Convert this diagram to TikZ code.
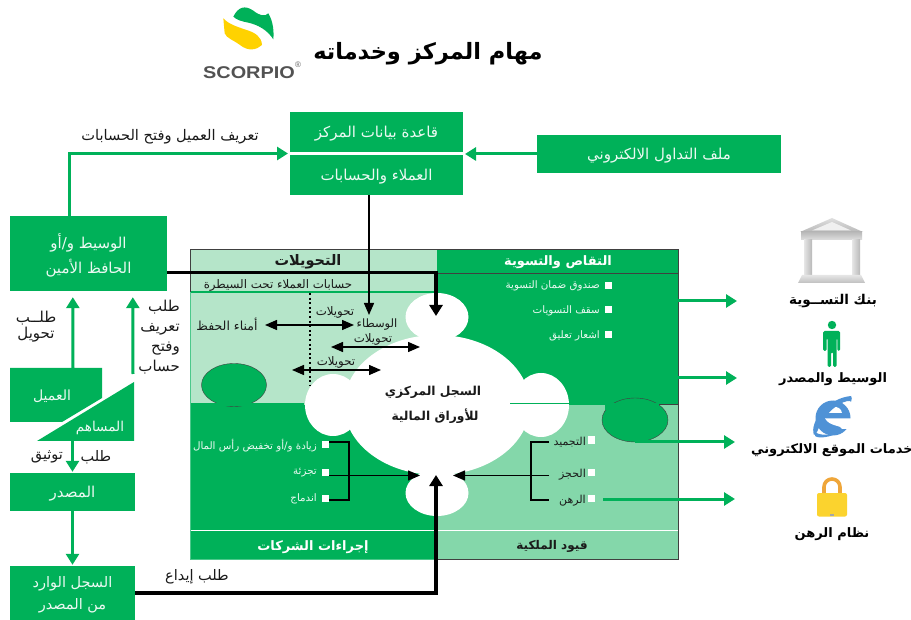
\documentclass[tikz,border=0pt]{standalone}
\usepackage{fontspec}
\usetikzlibrary{arrows.meta}
\setmainfont{Liberation Sans}
\newfontfamily\arfont[Script=Arabic]{DejaVu Sans}
\TeXXeTstate=1
\newcommand{\ar}[1]{\raisebox{-.13em}[\height][\depth]{\arfont\beginR #1\endR}}
\newcommand{\fs}[2]{\fontsize{#1}{#2}\selectfont}
\definecolor{gmain}{HTML}{00B159}
\definecolor{glight}{HTML}{B5E5C9}
\definecolor{gmid}{HTML}{84D7AA}
\definecolor{edgegray}{HTML}{404040}
\definecolor{txtdark}{HTML}{1A1A1A}
\definecolor{iefill}{HTML}{4F92D6}
\definecolor{lockbody}{HTML}{FBD32E}
\definecolor{lockring}{HTML}{EFA63A}
\definecolor{logoyellow}{HTML}{FFD200}
\tikzset{
  gbox/.style={fill=gmain,text=white!92!gmain,inner sep=0pt,align=center,font=\fs{15}{25}},
  garrow/.style={draw=gmain,line width=3pt,-{Triangle[length=11pt,width=13pt]}},
  thickarrow/.style={draw=black,line width=3.6pt,-{Triangle[length=11pt,width=13pt]}},
  thinarrow/.style={draw=black,line width=1.4pt,-{Triangle[length=12pt,width=10pt]}},
  dblarrow/.style={draw=black,line width=1.4pt,{Triangle[length=12pt,width=10pt]}-{Triangle[length=12pt,width=10pt]}},
  bracket/.style={draw=black,line width=1.4pt},
  lbl/.style={inner sep=0pt,text=txtdark,font=\fs{14.5}{19},align=center},
  small/.style={inner sep=0pt,text=txtdark,font=\fs{11}{12}},
  smallw/.style={inner sep=0pt,text=white!92!gmain,font=\fs{10.3}{12}},
  head/.style={inner sep=0pt,font=\fs{13}{14}\bfseries},
  iconlbl/.style={inner sep=0pt,text=black,font=\fs{13}{14}\bfseries},
  sq/.style={fill=white,inner sep=0pt,minimum size=7pt},
  quad/.style={inner sep=0pt,minimum width=246pt},
}
\begin{document}
\begin{tikzpicture}[x=1pt,y=-1pt]
\useasboundingbox[fill=white] (0,0) rectangle (911,620);
% ---- panel quadrants
\node[quad,fill=glight,minimum height=156pt] (tl) at (313.5,327) {};
\node[quad,fill=gmain,minimum width=241.5pt,minimum height=156pt] (tr) at (557.25,327) {};
\node[quad,fill=gmain,minimum height=154pt] (bl) at (313.5,482) {};
\node[quad,fill=gmid,minimum width=241.5pt,minimum height=154pt] (br) at (557.25,482) {};
% puzzle lobes
\fill[gmain,draw=edgegray,line width=.4pt] (234,385) ellipse [x radius=32.5,y radius=21.5];
\fill[gmain] (190.5,403) rectangle (304,406);
\fill[gmain,draw=edgegray,line width=.4pt] (635,420) ellipse [x radius=33,y radius=22];
\fill[gmain] (605,403) rectangle (659,410);
\draw[edgegray,line width=.6pt] (659,404.5) -- (678,404.5);
% panel rules
\draw[edgegray,line width=.7pt] (436.5,273) -- (678,273);
\draw[edgegray,line width=.7pt] (190.5,292) -- (190.5,249) -- (678,249) -- (678,559) -- (436.5,559);
\draw[gmain!70!white,line width=.5pt] (190.5,292) -- (190.5,559) -- (436.5,559);
\draw[gmain,line width=2pt] (190.5,292.5) -- (436.5,292.5);
\draw[white,line width=1.6pt] (190.5,530.5) -- (678,530.5);
% ---- white cloud
\fill[white] (437,405) ellipse [x radius=93,y radius=70];
\fill[white] (437,317) ellipse [x radius=31.5,y radius=24];
\fill[white] (437,493) ellipse [x radius=31.5,y radius=23];
\fill[white] (333,405) ellipse [x radius=28,y radius=31];
\fill[white] (541,405) ellipse [x radius=28,y radius=32];
\draw[gmain,line width=1.6pt] (510,403.5) -- (570,403.5);
% ---- dotted rule
\draw[black,line width=2pt,dash pattern=on 2pt off 2.6pt] (310,293) -- (310,386);
% ---- boxes
\node[gbox,minimum width=173pt,minimum height=40pt] (dbtop) at (376.5,132) {\ar{قاعدة بيانات المركز}};
\node[gbox,minimum width=173pt,minimum height=40pt] (dbbot) at (376.5,175) {\ar{العملاء والحسابات}};
\node[gbox,minimum width=244pt,minimum height=38pt] (file) at (659,154) {\ar{ملف التداول الالكتروني}};
\node[gbox,minimum width=157pt,minimum height=75pt] (broker) at (88.5,253.5) {\ar{الوسيط و/أو}\\\ar{الحافظ الأمين}};
\node[gbox,minimum width=125pt,minimum height=38pt] (issuer) at (72.5,492) {\ar{المصدر}};
\node[gbox,minimum width=125pt,minimum height=54pt,font=\fs{14.5}{22}] (incoming) at (72.5,593) {\ar{السجل الوارد}\\\ar{من المصدر}};
% client and shareholder shapes
\fill[gmain] (10,368) -- (102,368) -- (102,398) -- (62,422) -- (10,422) -- cycle;
\fill[gmain] (134,382) -- (134,441) -- (37,441) -- cycle;
\node[inner sep=0pt,text=white!92!gmain,font=\fs{14}{15}] (client) at (52,394) {\ar{العميل}};
\node[inner sep=0pt,text=white!92!gmain,font=\fs{13.6}{15}] (holder) at (100,426) {\ar{المساهم}};
% ---- cloud text
\node[inner sep=0pt,text=txtdark,font=\fs{12.3}{14}\bfseries] (regone) at (433,391) {\ar{السجل المركزي}};
\node[inner sep=0pt,text=txtdark,font=\fs{12.3}{14}\bfseries] (regtwo) at (435,415) {\ar{للأوراق المالية}};
% ---- headers
\node[head,text=txtdark,font=\fs{14.5}{15}\bfseries] (hxfer) at (308,260) {\ar{التحويلات}};
\node[small,text=txtdark,font=\fs{11.8}{13}] (hctrl) at (278,284) {\ar{حسابات العملاء تحت السيطرة}};
\node[head,text=white] (hclear) at (558,260) {\ar{التقاص والتسوية}};
\node[head,text=white] (hcorp) at (313,545) {\ar{إجراءات الشركات}};
\node[head,text=txtdark,font=\fs{12}{14}\bfseries] (hlimit) at (552,545) {\ar{قيود الملكية}};
% ---- bullets top right
\node[sq] (s1) at (608,286) {}; \node[smallw,anchor=east] (t1) at (600,285) {\ar{صندوق ضمان التسوية}};
\node[sq] (s2) at (608,310) {}; \node[smallw,anchor=east] (t2) at (600,310) {\ar{سقف التسويات}};
\node[sq] (s3) at (608,335) {}; \node[smallw,anchor=east] (t3) at (600,335) {\ar{اشعار تعليق}};
% ---- bullets bottom left
\node[sq] (l1) at (325.5,444.5) {}; \node[smallw,anchor=east] (lt1) at (317,444) {\ar{زيادة و/أو تخفيض رأس المال}};
\node[sq] (l2) at (325.5,472.5) {}; \node[smallw,anchor=east] (lt2) at (317,471) {\ar{تجزئة}};
\node[sq] (l3) at (325.5,498) {}; \node[smallw,anchor=east] (lt3) at (317,498) {\ar{اندماج}};
% ---- bullets bottom right
\node[sq] (r1) at (591.5,440) {}; \node[small,anchor=east] (rt1) at (586,441) {\ar{التجميد}};
\node[sq] (r2) at (591.5,472) {}; \node[small,anchor=east] (rt2) at (586,473) {\ar{الحجز}};
\node[sq] (r3) at (591.5,498) {}; \node[small,anchor=east] (rt3) at (586,499) {\ar{الرهن}};
% ---- transfer labels
\node[small,font=\fs{11.8}{13}] (x1) at (335,311) {\ar{تحويلات}};
\node[small,font=\fs{11.5}{13}] (vas) at (377,323) {\ar{الوسطاء}};
\node[small,font=\fs{11.8}{13}] (x2) at (373,338) {\ar{تحويلات}};
\node[small,font=\fs{11.8}{13}] (x3) at (336,361) {\ar{تحويلات}};
\node[small,font=\fs{12.5}{13}] (cust) at (227,323) {\ar{أمناء الحفظ}};
% ---- free labels
\node[lbl,font=\fs{14.6}{16}] (lopen) at (170,135) {\ar{تعريف العميل وفتح الحسابات}};
\node[lbl,font=\fs{15}{16}] (lreq) at (36,325) {\ar{طلــب}\\\ar{تحويل}};
\node[lbl,font=\fs{15}{20},anchor=north east,align=right] (lreg) at (180,298) {\ar{طلب}\\\ar{تعريف}\\\ar{وفتح}\\\ar{حساب}};
\node[lbl] (lwa) at (96,455) {\ar{طلب}};
\node[lbl] (lwb) at (47,455) {\ar{توثيق}};
\node[lbl] (ldep) at (197,575) {\ar{طلب إيداع}};
% ---- connector ends
\coordinate (dbL) at (288,153.5);
\coordinate (dbR) at (465,154);
\coordinate (cloudT) at (436,316);
\coordinate (cloudB) at (436,475);
\coordinate (vasT) at (369,315);
\coordinate (cloudL) at (420,475.5);
\coordinate (cloudR) at (453,475.5);
\coordinate (bank) at (737,301);
\coordinate (person) at (737,378);
\coordinate (web) at (735,442);
\coordinate (lock) at (735,499);
% ---- green connectors
\draw[garrow] ([xshift=60pt]broker.north west) |- (dbL);
\draw[garrow] (file.west) -- (dbR);
\draw[garrow] (73,368) -- ([xshift=63pt,yshift=-6pt]broker.south west);
\draw[garrow] (133,374) -- ([xshift=123pt,yshift=-6pt]broker.south west);
\draw[garrow] (72.5,441) -- ([yshift=1pt]issuer.north);
\draw[garrow] (issuer.south) -- ([yshift=1pt]incoming.north);
\draw[garrow] (678,301) -- (bank);
\draw[garrow] (678,378) -- (person);
\draw[garrow] (635,442) -- (web);
\draw[garrow] (603,499) -- (lock);
% ---- black connectors
\draw[thickarrow] ([yshift=-19pt]broker.east) -| (cloudT);
\draw[thickarrow] (incoming.east) -| (cloudB);
\draw[thinarrow] (dbbot.south -| vasT) -- (vasT);
\draw[dblarrow] (265,325) -- (354,325);
\draw[dblarrow] (331,347) -- (420,347);
\draw[dblarrow] (292,370) -- (381,370);
\draw[bracket] ([yshift=2.5pt]l1.east) -- (349,442) -- (349,500) -- ([yshift=-2pt]l3.east);
\draw[thinarrow] ([yshift=-3pt]l2.east) -- (cloudL);
\draw[bracket] (549,442) -- (531,442) -- (531,500) -- (549,500);
\draw[thinarrow] (549,475.5) -- (cloudR);
% ---- title
\node[inner sep=0pt,text=black,font=\fs{22.5}{24}\bfseries] (title) at (428,51) {\ar{مهام المركز وخدماته}};
% ---- logo
\begin{scope}[shift={(190,0)},x=.3333pt,y=-.3333pt]
\fill[gmain] (130,50) .. controls (145,20) and (165,15) .. (190,32) .. controls (210,48) and (225,50) .. (235,40) .. controls (250,65) and (252,95) .. (250,118) .. controls (232,90) and (205,75) .. (175,68) .. controls (155,64) and (140,60) .. (130,50) -- cycle;
\fill[logoyellow] (100,55) .. controls (115,72) and (140,80) .. (170,90) .. controls (195,98) and (215,110) .. (216,135) .. controls (200,150) and (175,155) .. (150,135) .. controls (130,120) and (110,115) .. (104,100) -- cycle;
\end{scope}
\node[inner sep=0pt,xscale=1.17,text=black!68,font=\fs{17}{18}\bfseries] (logotext) at (249,72.5) {SCORPIO};
\node[inner sep=0pt,text=black!60,font=\fs{8}{9}] (logomark) at (298,65) {®};
% ---- bank icon
\shade[top color=gray!25,bottom color=gray!55] (800,232) -- (832,218) -- (863,232) -- cycle;
\fill[gray!12] (812,230.5) -- (832,222) -- (851,230.5) -- cycle;
\shade[top color=gray!55,bottom color=gray!25] (801,232) rectangle (862,240);
\shade[left color=gray!20,right color=gray!55] (804,240) rectangle (812,276);
\shade[left color=gray!20,right color=gray!55] (852,240) rectangle (860,276);
\shade[top color=gray!20,bottom color=gray!50] (802,275) -- (861,275) -- (865,283) -- (798,283) -- cycle;
\node[iconlbl,font=\fs{13.5}{14}\bfseries] (lbank) at (833,299) {\ar{بنك التســوية}};
% ---- person icon
\fill[gmain] (832,325) circle (4.2);
\fill[gmain,rounded corners=1.5pt] (823,331) -- (840,331) -- (840,351) -- (837.3,351) -- (837.3,338) -- (836.5,338) -- (836.5,367) -- (833,367) -- (833,352) -- (831,352) -- (831,367) -- (827.5,367) -- (827.5,338) -- (826.5,338) -- (826.5,351) -- (823,351) -- cycle;
\node[iconlbl] (lperson) at (833,377) {\ar{الوسيط والمصدر}};
% ---- globe icon
\fill[iefill] (833,418) circle (17.5);
\fill[white] (825,413) .. controls (826,404.5) and (841,404.5) .. (842,413) -- cycle;
\fill[white] (825,418.5) -- (852,418.5) -- (852,429) -- (842,429) .. controls (842,425) and (830,427) .. (825,418.5) -- cycle;
\fill[iefill] (814,435) .. controls (809,422) and (828,398) .. (851,396) .. controls (852,397) and (852,399) .. (851,402) .. controls (851,398) and (828,404) .. (817,432) -- cycle;
\fill[iefill] (815,436) .. controls (819,439) and (830,437) .. (838,433) .. controls (830,435) and (820,436) .. (815,432) -- cycle;
\node[iconlbl] (lweb) at (832,448) {\ar{خدمات الموقع الالكتروني}};
% ---- lock icon
\draw[lockring,line width=3.6pt] (824,495) -- (824,487) arc[start angle=180,end angle=360,x radius=8,y radius=8] -- (840,495);
\fill[lockbody,rounded corners=2pt] (817,493) rectangle (847,516.5);
\fill[gray!70] (830,514) rectangle (834,516);
\node[iconlbl] (llock) at (832,532) {\ar{نظام الرهن}};
\end{tikzpicture}
\end{document}
